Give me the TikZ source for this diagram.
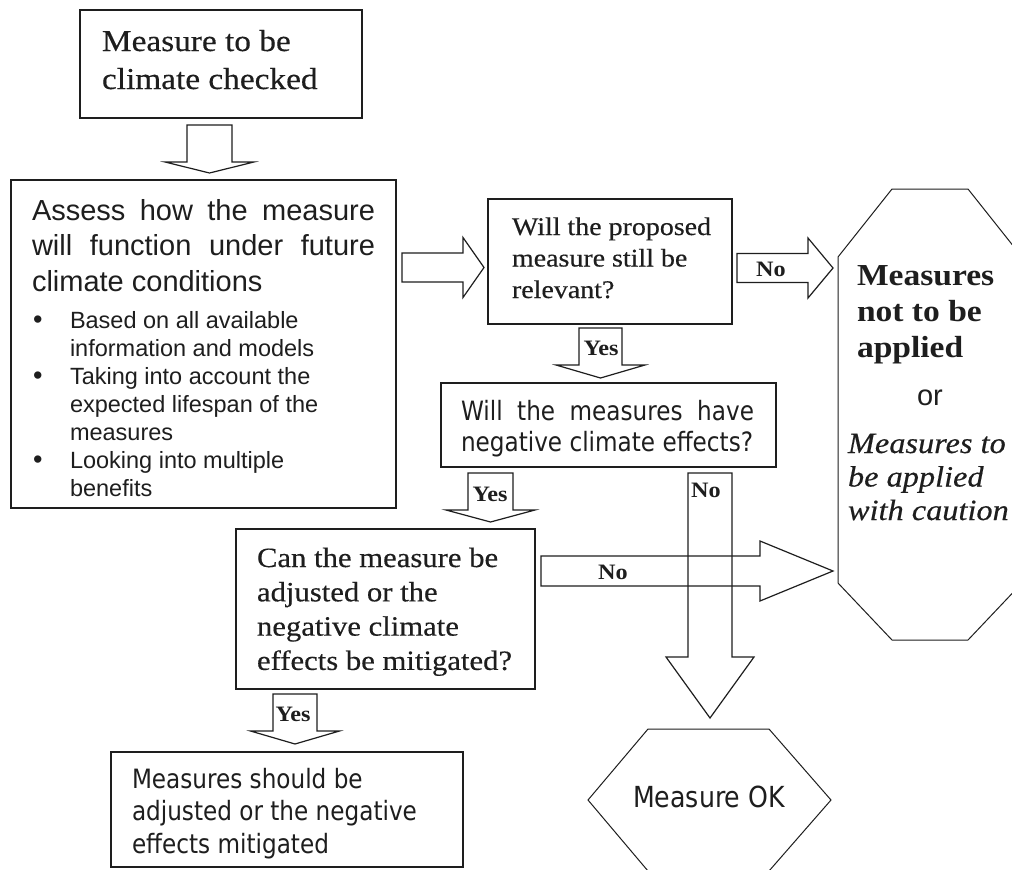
\documentclass[tikz,border=0pt]{standalone}
\usepackage{fontspec}
\usetikzlibrary{calc}
\newfontfamily\cam[FakeStretch=1.1, UprightFeatures={FakeBold=0.4}, ItalicFeatures={FakeBold=0.4}]{Liberation Serif}
\newfontfamily\ari{Liberation Sans}
\newfontfamily\tah[FakeStretch=0.87]{DejaVu Sans}
\newcommand\fs[2]{\fontsize{#1}{#2}\selectfont}
\definecolor{ink}{HTML}{1E1E1E}
\tikzset{
  box/.style={draw=ink, line width=1.6pt, inner sep=0pt, outer sep=0pt, anchor=north west},
  blk/.style={draw=ink, line width=1.2pt, line join=miter},
  shp/.style={draw=ink, line width=1pt, line join=miter},
  txt/.style={inner sep=0pt, outer sep=0pt, text=ink},
  lbl/.style={inner sep=0pt, outer sep=0pt, text=ink, font=\cam\bfseries\fs{22}{22}},
}
% block arrow: start, tip, shaft half width, head half width, head length
\newcommand\barrow[5]{%
  \coordinate (hb) at ($#2!#5!#1$);
  \draw[blk] ($#1!#3!90:#2$) -- ($(hb)!#3!90:#2$) -- ($(hb)!#4!90:#2$) -- #2
    -- ($(hb)!#4!-90:#2$) -- ($(hb)!#3!-90:#2$) -- ($#1!#3!-90:#2$) -- cycle;}
\begin{document}
\begin{tikzpicture}[x=1pt,y=-1pt]
\useasboundingbox (0,0) rectangle (1012,870);
\fill[white] (0,0) rectangle (1012,870);

% boxes
\node[box, minimum width=282pt, minimum height=108pt] (b1) at (80,10) {};
\node[box, minimum width=385pt, minimum height=328pt] (b2) at (11,180) {};
\node[box, minimum width=244pt, minimum height=125pt] (b3) at (488,199) {};
\node[box, minimum width=335pt, minimum height=84pt] (b5) at (441,383) {};
\node[box, minimum width=299pt, minimum height=160pt] (b4) at (236,529) {};
\node[box, minimum width=352pt, minimum height=115pt] (b6) at (111,752) {};

% octagon and hexagon
\draw[shp] (838,257) coordinate (oc1) -- (892,189) -- (968,189) -- (1022,257)
  -- (1022,583) -- (968,640) -- (892,640) -- (838,583) coordinate (oc2) -- cycle;
\draw[shp] (588,800) coordinate (ok1) -- (648,729) -- (769,729) -- (831,800)
  -- (769,871) -- (648,871) -- cycle;

% texts
\node[txt, anchor=base west] (t1) at (102,51)
  {\parbox[t]{260pt}{\cam\fs{30.3}{38}Measure to be\\climate checked}};
\node[txt, anchor=base west] (t2) at (32,220)
  {\parbox[t]{343pt}{\ari\fs{29}{35.5}\makebox[343pt][s]{Assess how the measure}\\
   \makebox[343pt][s]{will function under future}\\climate conditions}};
\node[txt, anchor=base west] (t2b) at (32,328)
  {\parbox[t]{340pt}{\ari\fs{23.5}{28}%
   \hangindent=38pt\hangafter=1\makebox[38pt][l]{\hspace{1pt}\fs{27}{28}•}Based on all available\\information and models\par
   \hangindent=38pt\hangafter=1\makebox[38pt][l]{\hspace{1pt}\fs{27}{28}•}Taking into account the\\expected lifespan of the\\measures\par
   \hangindent=38pt\hangafter=1\makebox[38pt][l]{\hspace{1pt}\fs{27}{28}•}Looking into multiple\\benefits\par}};
\node[txt, anchor=base west] (t3) at (512,235)
  {\parbox[t]{215pt}{\cam\fs{25.4}{31.5}Will the proposed\\measure still be\\relevant?}};
\node[txt, anchor=base west] (t5) at (461,420)
  {\parbox[t]{300pt}{\tah\fs{26.6}{31}\makebox[293pt][s]{Will the measures have}\\negative climate effects?}};
\node[txt, anchor=base west] (t4) at (257,567)
  {\parbox[t]{275pt}{\cam\fs{27.9}{34.3}Can the measure be\\adjusted or the\\negative climate\\effects be mitigated?}};
\node[txt, anchor=base west] (t6) at (132,788)
  {\parbox[t]{330pt}{\tah\fs{26.6}{32.5}Measures should be\\adjusted or the negative\\effects mitigated}};
\node[txt, anchor=base west] (o1) at (857,285)
  {\parbox[t]{160pt}{\cam\bfseries\fs{30.5}{36}Measures\\not to be\\applied}};
\node[txt, anchor=base] (o2) at (930,405) {\ari\fs{29}{29}or};
\node[txt, anchor=base west] (o3) at (848,453)
  {\parbox[t]{180pt}{\cam\itshape\fs{29.4}{33.5}Measures to\\be applied\\with caution}};
\node[txt, anchor=base] (okt) at (709,807) {\tah\fs{29}{29}Measure OK};

% connector end points
\coordinate (a1s) at (209.5,125); \coordinate (a1t) at (209.5,173);
\coordinate (a2s) at (402,267.5); \coordinate (a2t) at (484,267.5);
\coordinate (a3s) at (737,268);   \coordinate (a3t) at (833,268);
\coordinate (a4s) at (600.5,328); \coordinate (a4t) at (600.5,378);
\coordinate (a5s) at (490.5,473); \coordinate (a5t) at (490.5,522);
\coordinate (a6s) at (710,473);   \coordinate (a6t) at (710,718);
\coordinate (a7s) at (541,571);   \coordinate (a7t) at (833,571);
\coordinate (a8s) at (295,694);   \coordinate (a8t) at (295,744);

\barrow{(a1s)}{(a1t)}{22.5pt}{44.5pt}{11pt}
\barrow{(a2s)}{(a2t)}{14.5pt}{30pt}{21pt}
\barrow{(a3s)}{(a3t)}{14.5pt}{30pt}{25pt}
\barrow{(a4s)}{(a4t)}{21.5pt}{44.5pt}{13pt}
\barrow{(a5s)}{(a5t)}{22.5pt}{44.5pt}{12pt}
\barrow{(a6s)}{(a6t)}{22pt}{44pt}{61pt}
\barrow{(a7s)}{(a7t)}{15pt}{30pt}{73pt}
\barrow{(a8s)}{(a8t)}{22pt}{44.5pt}{13pt}

% labels
\node[lbl] (l1) at (771,269) {No};
\node[lbl] (l2) at (601,348) {Yes};
\node[lbl] (l3) at (490,494) {Yes};
\node[lbl] (l4) at (706,490) {No};
\node[lbl] (l5) at (613,572) {No};
\node[lbl] (l6) at (293,714) {Yes};
\end{tikzpicture}
\end{document}
